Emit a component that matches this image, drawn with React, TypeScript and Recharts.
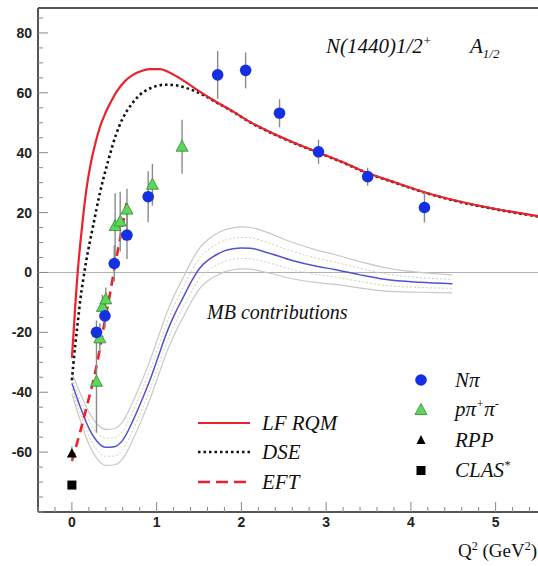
import React from "react";
import {
  ComposedChart,
  Line,
  Scatter,
  XAxis,
  YAxis,
  ReferenceLine,
  ErrorBar,
} from "recharts";

// ---------- axis ticks ----------
const xTicks = [-0.4, -0.2, 0, 0.2, 0.4, 0.6, 0.8, 1, 1.2, 1.4, 1.6, 1.8, 2, 2.2, 2.4, 2.6, 2.8, 3, 3.2, 3.4, 3.6, 3.8, 4, 4.2, 4.4, 4.6, 4.8, 5, 5.2, 5.4];
const xLabels = [0, 1, 2, 3, 4, 5];
const yTicks = [-80, -75, -70, -65, -60, -55, -50, -45, -40, -35, -30, -25, -20, -15, -10, -5, 0, 5, 10, 15, 20, 25, 30, 35, 40, 45, 50, 55, 60, 65, 70, 75, 80, 85];
const yLabels = [-60, -40, -20, 0, 20, 40, 60, 80];

// ---------- model curves ----------
const lfX = [0, 0.02, 0.04, 0.06, 0.08, 0.1, 0.13, 0.17, 0.22, 0.28, 0.33, 0.4, 0.47, 0.53, 0.63, 0.72, 0.82, 0.92, 1.04, 1.15, 1.27, 1.4, 1.51, 1.7, 1.9, 2.1, 2.33, 2.6, 2.9, 3.2, 3.49, 3.8, 4.16, 4.5, 5.0, 5.5];
const lfY = [-28.5, -20, -11, -3, 4, 10, 18, 27.5, 36, 43.5, 48.5, 53.5, 57.5, 60.5, 64, 66, 67.3, 67.9, 67.9, 66.8, 64.9, 62.5, 60.4, 57, 53.8, 50.3, 47, 43.6, 40.2, 36.8, 33.2, 30.2, 26.8, 24.2, 21.2, 18.8];

const dseX = [0, 0.016, 0.04, 0.074, 0.1, 0.133, 0.17, 0.25, 0.33, 0.43, 0.52, 0.6, 0.7, 0.8, 0.9, 1.0, 1.1, 1.2, 1.35, 1.55, 1.7, 1.9, 2.1, 2.33, 2.6, 2.9, 3.2, 3.49, 3.8, 4.16, 4.5, 5.0, 5.5];
const dseY = [-36, -31, -24, -15.5, -9, -2.5, 4, 15.5, 26.5, 37.5, 46, 51.5, 56, 59.3, 61.2, 62.3, 62.7, 62.6, 61.6, 59.3, 56.9, 53.7, 50.2, 46.9, 43.5, 40.1, 36.7, 33.1, 30.1, 26.7, 24.1, 21.1, 18.7];

const eftX = [0, 0.1, 0.2, 0.25, 0.3, 0.37, 0.45, 0.5, 0.58, 0.65];
const eftY = [-63, -53, -42, -36.5, -30, -19, -7, 1, 13, 24];

// ---------- MB contributions (central line + band) ----------
const mbX = [0, 0.1, 0.2, 0.3, 0.4, 0.5, 0.6, 0.72, 0.82, 0.92, 1.02, 1.12, 1.22, 1.31, 1.41, 1.51, 1.61, 1.71, 1.8, 1.9, 2.0, 2.1, 2.31, 2.6, 2.9, 3.1, 3.4, 3.69, 4.1, 4.49];
const mbCenter = [-37, -45, -52, -56.5, -58.4, -58.2, -56, -49.5, -43, -36, -28, -20, -13.5, -8.5, -3, 1.5, 4.2, 6, 7.2, 7.9, 8.2, 8.1, 6.6, 4, 2, 1, -0.8, -2.3, -3.3, -3.8];
const mbUpper = [-33.5, -40.5, -46.7, -50.7, -52.4, -52.1, -49.8, -43.2, -36.6, -29.6, -21.5, -13.5, -6.9, -1.9, 3.7, 8.3, 11.1, 13, 14.2, 14.9, 15.2, 15.1, 13.3, 10.1, 7.4, 6, 3.6, 1.6, 0, -0.8];
const mbLower = [-40.5, -49.5, -57.3, -62.3, -64.4, -64.3, -62.2, -55.8, -49.4, -42.4, -34.5, -26.5, -20.1, -15.1, -9.7, -5.3, -2.7, -1, 0.2, 0.9, 1.2, 1.1, -0.1, -2.1, -3.4, -4, -5.2, -6.2, -6.6, -6.8];
const mbUpperMid = [-35.3, -42.8, -49.4, -53.6, -55.4, -55.2, -52.9, -46.4, -39.8, -32.8, -24.8, -16.8, -10.2, -5.2, 0.4, 4.9, 7.7, 9.5, 10.7, 11.4, 11.7, 11.6, 10, 7.1, 4.7, 3.5, 1.4, -0.4, -1.7, -2.3];
const mbLowerMid = [-38.8, -47.3, -54.7, -59.4, -61.4, -61.3, -59.1, -52.7, -46.2, -39.2, -31.3, -23.3, -16.8, -11.8, -6.4, -1.9, 0.8, 2.5, 3.7, 4.4, 4.7, 4.6, 3.3, 1, -0.7, -1.5, -3, -4.3, -5, -5.3];

// ---------- data points ----------
const npiX = [0.29, 0.39, 0.5, 0.65, 0.9, 1.72, 2.05, 2.45, 2.91, 3.49, 4.16];
const npiY = [-20, -14.5, 3, 12.5, 25.3, 66, 67.5, 53.2, 40.3, 32, 21.7];
const npiErr = [4, 4, 6, 8, 8.5, 8, 6, 4.7, 4, 3, 5];

const ppipiX = [0.29, 0.33, 0.36, 0.4, 0.51, 0.57, 0.65, 0.95, 1.3];
const ppipiY = [-36.5, -22, -11.5, -9, 15.5, 17, 21, 29.3, 42];
const ppipiErr = [17, 5, 4, 4, 11, 10, 7, 7, 9];

const rppX = [0];
const rppY = [-60.5];
const rppErr = [2.5];

const clasX = [0];
const clasY = [-71];

const zip = (xs: number[], ys: number[]) => xs.map((x, i) => ({ x, y: ys[i] }));
const zipErr = (xs: number[], ys: number[], es: number[]) =>
  xs.map((x, i) => ({ x, y: ys[i], err: es[i] }));

const lfData = zip(lfX, lfY);
const dseData = zip(dseX, dseY);
const eftData = zip(eftX, eftY);
const mbData = zip(mbX, mbCenter);
const mbUpData = zip(mbX, mbUpper);
const mbLoData = zip(mbX, mbLower);
const mbUpMidData = zip(mbX, mbUpperMid);
const mbLoMidData = zip(mbX, mbLowerMid);
const npiData = zipErr(npiX, npiY, npiErr);
const ppipiData = zipErr(ppipiX, ppipiY, ppipiErr);
const rppData = zipErr(rppX, rppY, rppErr);
const clasData = zip(clasX, clasY);

// ---------- styles ----------
const RED = "#e8232b";
const BLUE = "#1530e0";
const GREEN_FILL = "#5cd65c";
const GREEN_EDGE = "#2e8b2e";
const SERIF = "'Liberation Serif', 'Times New Roman', serif";
const SANS = "'Liberation Sans', Arial, sans-serif";

const YTick = (props: any) => {
  const { x, y, payload } = props;
  const v = payload.value;
  const major = yLabels.includes(v);
  return (
    <g>
      <line x1={x} x2={x + (major ? 10 : 5)} y1={y} y2={y} stroke="#888" strokeWidth={1} />
      {major && (
        <text x={x - 6} y={y + 5} textAnchor="end" fontFamily={SANS} fontWeight="bold" fontSize={14} fill="#222">
          {v}
        </text>
      )}
    </g>
  );
};

const XTick = (props: any) => {
  const { x, y, payload } = props;
  const v = payload.value;
  const major = xLabels.some((l) => Math.abs(l - v) < 1e-6);
  return (
    <g>
      <line x1={x} x2={x} y1={y} y2={y - (major ? 10 : 5)} stroke="#888" strokeWidth={1} />
      {major && (
        <text x={x} y={y + 15} textAnchor="middle" fontFamily={SANS} fontWeight="bold" fontSize={14} fill="#222">
          {Math.round(v)}
        </text>
      )}
    </g>
  );
};

const circleShape = (p: any) => <circle cx={p.cx} cy={p.cy} r={5.8} fill={BLUE} />;
const triShape = (p: any) => (
  <polygon
    points={`${p.cx},${p.cy - 6.5} ${p.cx - 6},${p.cy + 4.5} ${p.cx + 6},${p.cy + 4.5}`}
    fill={GREEN_FILL}
    stroke={GREEN_EDGE}
    strokeWidth={0.8}
  />
);
const blackTriShape = (p: any) => (
  <polygon points={`${p.cx},${p.cy - 5.5} ${p.cx - 5},${p.cy + 4} ${p.cx + 5},${p.cy + 4}`} fill="#000" />
);
const squareShape = (p: any) => <rect x={p.cx - 4.5} y={p.cy - 4.5} width={9} height={9} fill="#000" />;

export default function App() {
  return (
    <div style={{ position: "absolute", left: 0, top: 0, width: 538, height: 566, background: "#fff" }}>
      <ComposedChart width={538} height={566} margin={{ top: 8, right: 0, bottom: 0, left: 0 }}>
        <XAxis
          type="number"
          dataKey="x"
          domain={[-0.4, 5.5]}
          allowDataOverflow
          ticks={xTicks}
          interval={0}
          tick={<XTick />}
          tickLine={false}
          tickSize={0}
          tickMargin={0}
          height={54}
          axisLine={{ stroke: "#555", strokeWidth: 2 }}
        />
        <YAxis
          type="number"
          dataKey="y"
          domain={[-80, 88.33]}
          allowDataOverflow
          ticks={yTicks}
          interval={0}
          tick={<YTick />}
          tickLine={false}
          tickSize={0}
          tickMargin={0}
          width={38}
          axisLine={{ stroke: "#555", strokeWidth: 2 }}
        />
        <ReferenceLine y={0} stroke="#b0b0b0" strokeWidth={1} />
        <ReferenceLine y={88.33} stroke="#555" strokeWidth={2} />

        {/* MB band */}
        <Line data={mbUpData} dataKey="y" type="monotone" stroke="#c8c8c8" strokeWidth={1.2} dot={false} isAnimationActive={false} />
        <Line data={mbLoData} dataKey="y" type="monotone" stroke="#c8c8c8" strokeWidth={1.2} dot={false} isAnimationActive={false} />
        <Line data={mbUpMidData} dataKey="y" type="monotone" stroke="#d4cfb0" strokeWidth={1} strokeDasharray="2 2" dot={false} isAnimationActive={false} />
        <Line data={mbLoMidData} dataKey="y" type="monotone" stroke="#d4cfb0" strokeWidth={1} strokeDasharray="2 2" dot={false} isAnimationActive={false} />
        <Line data={mbData} dataKey="y" type="monotone" stroke="#5252d4" strokeWidth={1.5} dot={false} isAnimationActive={false} />

        {/* model curves */}
        <Line data={dseData} dataKey="y" type="monotone" stroke="#111" strokeWidth={2.6} strokeDasharray="2.5 3" dot={false} isAnimationActive={false} />
        <Line data={lfData} dataKey="y" type="monotone" stroke={RED} strokeWidth={2.2} dot={false} isAnimationActive={false} />
        <Line data={eftData} dataKey="y" type="monotone" stroke={RED} strokeWidth={2.6} strokeDasharray="9 6" dot={false} isAnimationActive={false} />

        {/* data */}
        <Scatter data={ppipiData} shape={triShape} isAnimationActive={false}>
          <ErrorBar dataKey="err" direction="y" width={0} stroke="#8a8a8a" strokeWidth={1.4} />
        </Scatter>
        <Scatter data={npiData} shape={circleShape} isAnimationActive={false}>
          <ErrorBar dataKey="err" direction="y" width={0} stroke="#8a8a8a" strokeWidth={1.4} />
        </Scatter>
        <Scatter data={rppData} shape={blackTriShape} isAnimationActive={false}>
          <ErrorBar dataKey="err" direction="y" width={0} stroke="#8a8a8a" strokeWidth={1} />
        </Scatter>
        <Scatter data={clasData} shape={squareShape} isAnimationActive={false} />
      </ComposedChart>

      <svg width={538} height={566} style={{ position: "absolute", left: 0, top: 0, pointerEvents: "none" }}>
        {/* title */}
        <text x={326} y={53} fontFamily={SERIF} fontStyle="italic" fontSize={21} fill="#111">
          N(1440)1/2<tspan dy={-8} fontSize={13}>+</tspan>
        </text>
        <text x={470} y={53} fontFamily={SERIF} fontStyle="italic" fontSize={21} fill="#111">
          A<tspan dy={5} fontSize={13}>1/2</tspan>
        </text>

        <text x={207} y={319} fontFamily={SERIF} fontStyle="italic" fontSize={20} fill="#111">
          MB contributions
        </text>

        {/* left legend */}
        <line x1={198} x2={250} y1={423} y2={423} stroke={RED} strokeWidth={2.2} />
        <line x1={198} x2={250} y1={452} y2={452} stroke="#111" strokeWidth={2.6} strokeDasharray="2.5 3" />
        <line x1={198} x2={250} y1={482} y2={482} stroke={RED} strokeWidth={2.6} strokeDasharray="12 6" />
        <text x={262} y={430} fontFamily={SERIF} fontStyle="italic" fontSize={21} fill="#111">LF RQM</text>
        <text x={262} y={459} fontFamily={SERIF} fontStyle="italic" fontSize={21} fill="#111">DSE</text>
        <text x={262} y={489} fontFamily={SERIF} fontStyle="italic" fontSize={21} fill="#111">EFT</text>

        {/* right legend */}
        <circle cx={421} cy={380} r={5.8} fill={BLUE} />
        <polygon points="421,403.5 415,414.5 427,414.5" fill={GREEN_FILL} stroke={GREEN_EDGE} strokeWidth={0.8} />
        <polygon points="421,435 416.5,444 425.5,444" fill="#000" />
        <rect x={416.5} y={466} width={9} height={9} fill="#000" />
        <text x={455} y={387} fontFamily={SERIF} fontStyle="italic" fontSize={21} fill="#111">Nπ</text>
        <text x={455} y={416} fontFamily={SERIF} fontStyle="italic" fontSize={21} fill="#111">
          pπ<tspan dy={-8} fontSize={12}>+</tspan><tspan dy={8}>π</tspan><tspan dy={-8} fontSize={12}>-</tspan>
        </text>
        <text x={455} y={447} fontFamily={SERIF} fontStyle="italic" fontSize={21} fill="#111">RPP</text>
        <text x={455} y={477} fontFamily={SERIF} fontStyle="italic" fontSize={21} fill="#111">
          CLAS<tspan dy={-8} fontSize={12}>*</tspan>
        </text>

        {/* x axis title */}
        <text x={537} y={557} textAnchor="end" fontFamily={SERIF} fontSize={19} fill="#111">
          Q<tspan dy={-7} fontSize={12}>2</tspan><tspan dy={7}> (GeV</tspan><tspan dy={-7} fontSize={12}>2</tspan><tspan dy={7}>)</tspan>
        </text>
      </svg>
    </div>
  );
}
